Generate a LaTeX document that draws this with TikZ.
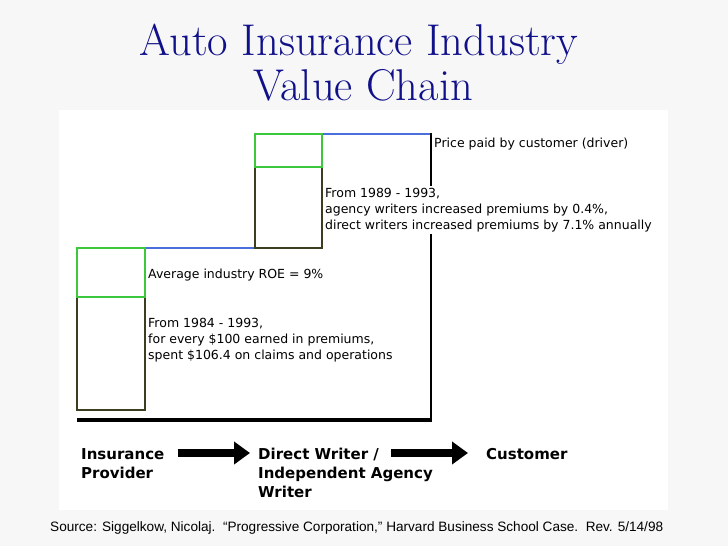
\documentclass[tikz,border=0pt]{standalone}
\usepackage{fontspec}
\newfontfamily\verd{DejaVu Sans}
\newfontfamily\arialf{Liberation Sans}
\usetikzlibrary{arrows.meta}
\definecolor{bg}{HTML}{F7F7F7}
\definecolor{boxgreen}{HTML}{3CC83C}
\definecolor{boxolive}{HTML}{3D3D20}
\definecolor{lineblue}{HTML}{4A6FDC}
\definecolor{titleblue}{HTML}{10108A}
\tikzset{
  txt/.style={anchor=base west, inner sep=0pt, font=\verd\fontsize{12.5}{16}\selectfont},
  covtxt/.style={anchor=base west, inner xsep=0pt, inner ysep=1.3pt, text height=10pt, text depth=3.5pt, fill=white, font=\verd\fontsize{12.5}{16}\selectfont},
  lbl/.style={anchor=base west, inner sep=0pt, font=\verd\bfseries\fontsize{15}{19}\selectfont},
  ttl/.style={anchor=base, inner sep=0pt, text=titleblue, font=\fontsize{44.5}{47}\selectfont},
  bigarrow/.style={line width=8pt, -{Triangle[length=16pt,width=22pt]}},
  gbox/.style={draw=boxgreen, line width=2pt},
  obox/.style={draw=boxolive, line width=2pt},
  bline/.style={draw=lineblue, line width=2pt},
}
\begin{document}
\begin{tikzpicture}[x=1pt,y=-1pt]
\useasboundingbox (0,0) rectangle (728,546);
\fill[bg] (0,0) rectangle (728,546);
\fill[white] (59,110) rectangle (668,510);

% title
\node[ttl] (t1) at (359,55) {Auto Insurance Industry};
\node[ttl] (t2) at (363,100) {Value Chain};

% axes
\draw[line width=2.5pt] (431,133) -- (431,421);
\draw[line width=3.5pt] (77,420) -- (432.25,420);

% box 1
\draw[obox] (77,297) rectangle (145,410);
\draw[gbox] (77,248) rectangle (145,297);
\draw[bline] (146,248) -- (254,248);

% box 2
\draw[obox] (255,167) rectangle (322,248);
\draw[gbox] (255,134) rectangle (322,167);
\draw[bline] (323,134) -- (430,134);

% texts
\node[txt] (price) at (434,147) {Price paid by customer (driver)};
\node[covtxt] (f89a) at (325,197) {From 1989 - 1993,};
\node[covtxt] (f89b) at (325,213) {agency writers increased premiums by 0.4\%,};
\node[covtxt] (f89c) at (325,229) {direct writers increased premiums by 7.1\% annually};
\node[txt] (roe) at (148,278) {Average industry ROE = 9\%};
\node[txt] (f84a) at (148,327) {From 1984 - 1993,};
\node[txt] (f84b) at (148,343) {for every \$100 earned in premiums,};
\node[txt] (f84c) at (148,359) {spent \$106.4 on claims and operations};

% bottom labels
\node[lbl] (ins1) at (81,459) {Insurance};
\node[lbl] (ins2) at (81,478) {Provider};
\node[lbl] (dir1) at (258,459) {Direct Writer /};
\node[lbl] (dir2) at (258,478) {Independent Agency};
\node[lbl] (dir3) at (258,497) {Writer};
\node[lbl] (cus) at (486,459) {Customer};

\draw[bigarrow] ([shift={(13,-6)}]ins1.base east) -- ([shift={(-8,-6)}]dir1.base west);
\draw[bigarrow] ([shift={(12,-6)}]dir1.base east) -- ([shift={(-18,-6)}]cus.base west);

% source
\node[anchor=base west, inner sep=0pt, font=\arialf\fontsize{13.6}{16}\selectfont] (src) at (50,531)
  {Source: Siggelkow, Nicolaj.\ \ “Progressive Corporation,” Harvard Business School Case.\ \ Rev. 5/14/98};
\end{tikzpicture}
\end{document}
